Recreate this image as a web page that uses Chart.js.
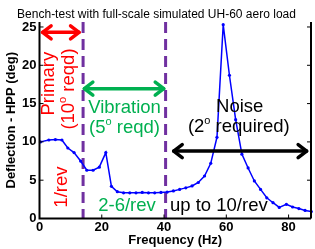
<!DOCTYPE html>
<html>
<head>
<meta charset="utf-8">
<script src="https://cdn.jsdelivr.net/npm/chart.js@4.4.0/dist/chart.umd.min.js"></script>
<style>
  html, body { margin: 0; padding: 0; background: #fff; }
  #wrap { width: 315px; height: 249px; }
</style>
</head>
<body>
<div id="wrap"><canvas id="hppChart" width="315" height="249"></canvas></div>
<script>
// sweep frequency (Hz) and measured HPP deflection (deg)
const freqHz = [0.3, 3.0, 5.1, 7.2, 9.1, 11.1, 13.2, 15.2, 17.2, 19.2, 21.3, 23.1, 25.0,
  27.0, 29.0, 31.0, 33.0, 35.0, 37.0, 39.0, 41.0, 43.0, 45.0, 47.0, 49.0, 51.0, 53.0,
  55.0, 57.0, 59.0, 61.0, 63.0, 65.0, 67.0, 69.0, 71.0, 73.0, 75.0, 77.0, 79.3, 81.3,
  83.3, 85.3, 87.3];
const deflDeg = [10.0, 10.25, 10.3, 10.25, 9.2, 8.6, 7.5, 6.3, 6.3, 6.7, 8.6, 4.2, 3.5,
  3.35, 3.35, 3.35, 3.4, 3.35, 3.35, 3.4, 3.45, 3.6, 3.8, 4.0, 4.25, 4.7, 5.55,
  7.2, 10.6, 25.3, 18.7, 12.9, 8.4, 6.6, 4.9, 3.8, 2.7, 2.06, 1.45, 1.85, 1.5,
  1.3, 1.05, 0.9];
const xTicks = [0, 20, 40, 60, 80];
const yTicks = [0, 5, 10, 15, 20, 25];
const bandEdges = [14, 40.5]; // dashed band boundaries (Hz)

const RED = '#FF0000', GREEN = '#00B050', BLACK = '#000000', PURPLE = '#7030A0';
const FONT = "'Liberation Sans', Arial, sans-serif";

// double-headed arrows, in data units
const arrows = [
  { x1: 1.0, x2: 12.7, y: 24.3, color: RED },
  { x1: 14.4, x2: 39.9, y: 16.95, color: GREEN },
  { x1: 43.1, x2: 85.8, y: 8.8, color: BLACK }
];

// text labels; parts flagged true are drawn as superscript
const notes = [
  { parts: [['Primary']], x: 3.0, y: 17.6, color: RED, rot: true },
  { parts: [['(10'], ['o', true], [' reqd)']], x: 9.6, y: 16.9, color: RED, rot: true },
  { parts: [['1/rev']], x: 7.2, y: 4.1, color: RED, rot: true },
  { parts: [['Vibration']], x: 27.3, y: 14.4, color: GREEN },
  { parts: [['(5'], ['o', true], [' reqd)']], x: 27.3, y: 11.8, color: GREEN },
  { parts: [['2-6/rev']], x: 28.1, y: 1.6, color: GREEN },
  { parts: [['Noise']], x: 64.3, y: 14.55, color: BLACK },
  { parts: [['(2'], ['o', true], [' required)']], x: 64.0, y: 11.95, color: BLACK },
  { parts: [['up to 10/rev']], x: 57.6, y: 1.6, color: BLACK }
];

function drawArrowHead(ctx, x, y, dir) {
  ctx.beginPath();
  ctx.moveTo(x - dir * 8.5, y - 6.5);
  ctx.lineTo(x, y);
  ctx.lineTo(x - dir * 8.5, y + 6.5);
  ctx.stroke();
}

function drawNote(ctx, n, px, py) {
  const big = '18.5px ' + FONT, small = '11px ' + FONT;
  let total = 0;
  const widths = n.parts.map(p => {
    ctx.font = p[1] ? small : big;
    const w = ctx.measureText(p[0]).width;
    total += w;
    return w;
  });
  ctx.save();
  ctx.translate(px, py);
  if (n.rot) ctx.rotate(-Math.PI / 2);
  ctx.fillStyle = n.color;
  ctx.textAlign = 'left';
  ctx.textBaseline = 'middle';
  let cx = -total / 2;
  n.parts.forEach((p, i) => {
    ctx.font = p[1] ? small : big;
    ctx.fillText(p[0], cx, p[1] ? -6 : 0);
    cx += widths[i];
  });
  ctx.restore();
}

const annotate = {
  id: 'annotate',
  beforeDatasetsDraw(chart) {
    const { ctx, chartArea: a, scales: { x } } = chart;
    ctx.save();
    ctx.strokeStyle = PURPLE;
    ctx.lineWidth = 3;
    ctx.setLineDash([11, 6]);
    bandEdges.forEach(f => {
      const px = x.getPixelForValue(f);
      ctx.beginPath();
      ctx.moveTo(px, a.top);
      ctx.lineTo(px, a.bottom);
      ctx.stroke();
    });
    ctx.restore();
  },
  afterDatasetsDraw(chart) {
    const { ctx, chartArea: a, scales: { x, y } } = chart;
    ctx.save();
    // axes box (no top edge) with inward ticks
    ctx.strokeStyle = BLACK;
    ctx.lineWidth = 2;
    ctx.beginPath();
    ctx.moveTo(a.left, a.top); ctx.lineTo(a.left, a.bottom); ctx.lineTo(a.right, a.bottom);
    ctx.moveTo(a.right, a.bottom); ctx.lineTo(a.right, a.top);
    ctx.stroke();
    ctx.lineWidth = 1;
    ctx.beginPath();
    yTicks.forEach(v => {
      const py = y.getPixelForValue(v);
      ctx.moveTo(a.left, py); ctx.lineTo(a.left + 4, py);
      ctx.moveTo(a.right, py); ctx.lineTo(a.right - 4, py);
    });
    xTicks.forEach(v => {
      const px = x.getPixelForValue(v);
      ctx.moveTo(px, a.bottom); ctx.lineTo(px, a.bottom - 4);
    });
    ctx.stroke();

    // double arrows
    ctx.lineWidth = 3.5;
    ctx.lineJoin = 'round';
    ctx.lineCap = 'round';
    arrows.forEach(ar => {
      const x1 = x.getPixelForValue(ar.x1), x2 = x.getPixelForValue(ar.x2);
      const py = y.getPixelForValue(ar.y);
      ctx.strokeStyle = ar.color;
      ctx.beginPath();
      ctx.moveTo(x1, py); ctx.lineTo(x2, py);
      ctx.stroke();
      drawArrowHead(ctx, x1, py, -1);
      drawArrowHead(ctx, x2, py, 1);
    });
    ctx.restore();

    notes.forEach(n => drawNote(ctx, n, x.getPixelForValue(n.x), y.getPixelForValue(n.y)));
  }
};

const ctx = document.getElementById('hppChart').getContext('2d');
new Chart(ctx, {
  type: 'line',
  data: {
    datasets: [{
      data: freqHz.map((f, i) => ({ x: f, y: deflDeg[i] })),
      borderColor: '#0000FF',
      backgroundColor: '#0000FF',
      borderWidth: 1.5,
      pointRadius: 1.6,
      pointBorderWidth: 0,
      tension: 0,
      clip: false
    }]
  },
  options: {
    responsive: false,
    animation: false,
    devicePixelRatio: 1,
    layout: { padding: { right: 2 } },
    plugins: {
      legend: { display: false },
      tooltip: { enabled: false },
      title: {
        display: true,
        text: 'Bench-test with full-scale simulated UH-60 aero load',
        color: BLACK,
        font: { family: FONT, size: 12, weight: 'normal' },
        padding: { top: 7, bottom: 0.6 }
      }
    },
    scales: {
      x: {
        type: 'linear',
        min: 0,
        max: 87.2,
        afterBuildTicks: s => { s.ticks = xTicks.map(v => ({ value: v })); },
        afterFit: s => { s.height = 30.5; },
        grid: { display: false, drawTicks: false },
        border: { display: false },
        ticks: { color: BLACK, padding: 1, maxRotation: 0, autoSkip: false,
                 font: { family: FONT, size: 13, weight: 'bold' } },
        title: { display: true, text: 'Frequency (Hz)', color: BLACK,
                 font: { family: FONT, size: 13, weight: 'bold' }, padding: { top: 0, bottom: 1 } }
      },
      y: {
        min: 0,
        max: 25.65,
        afterBuildTicks: s => { s.ticks = yTicks.map(v => ({ value: v })); },
        afterFit: s => { s.width = 39.5; },
        grid: { display: false, drawTicks: false },
        border: { display: false },
        ticks: { color: BLACK, padding: 3,
                 font: { family: FONT, size: 13, weight: 'bold' } },
        title: { display: true, text: 'Deflection - HPP (deg)', color: BLACK,
                 font: { family: FONT, size: 13, weight: 'bold' }, padding: { top: 4, bottom: 0 } }
      }
    }
  },
  plugins: [annotate]
});
</script>
</body>
</html>
